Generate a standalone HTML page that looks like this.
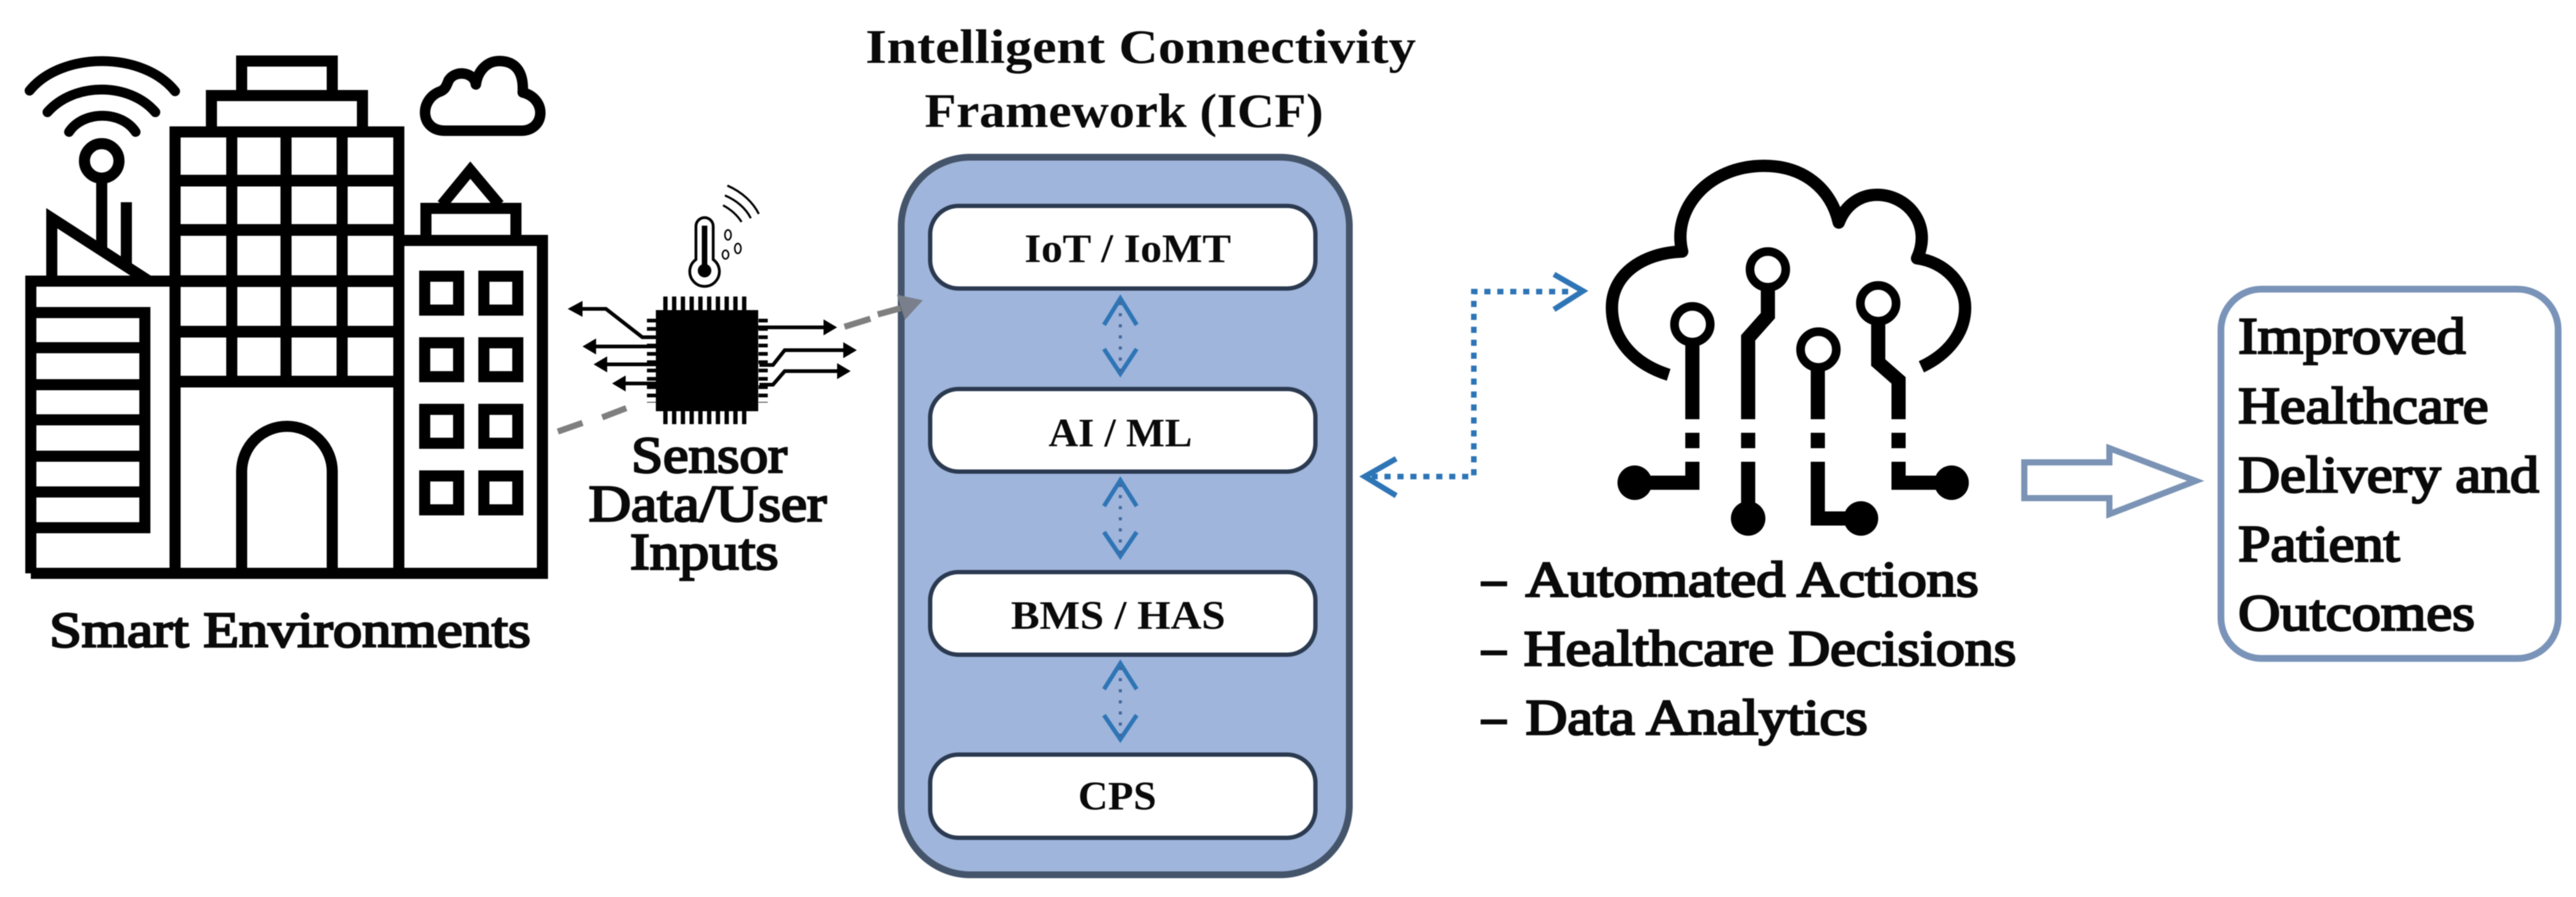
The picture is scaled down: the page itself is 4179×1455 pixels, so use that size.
<!DOCTYPE html>
<html>
<head>
<meta charset="utf-8">
<style>
html,body{margin:0;padding:0;background:#fff;}
svg{display:block;filter:blur(0.8px);}
text{font-family:"Liberation Serif",serif;font-weight:bold;fill:#0a0a0a;}
text.m{font-weight:normal;stroke:#0a0a0a;stroke-width:3.2px;}
</style>
</head>
<body>
<svg width="4179" height="1455" viewBox="0 0 4179 1455" xmlns="http://www.w3.org/2000/svg">
<rect width="4179" height="1455" fill="#fff"/>

<!-- Smart building icon -->
<g fill="none" stroke="#000" stroke-width="18" stroke-linejoin="miter">
  <path d="M50 930V456H284M284 930V214H647V930M50 930H880V390H647"/>
  <path d="M284 293H647M284 373H647M284 456H647M284 538H647M284 619H647" stroke-width="19"/>
  <path d="M376 214V619M464 214V619M555 214V619"/>
  <path d="M343 214V155H588V214M392 155V99H539V155"/>
  <path d="M392 930V765A73.500 73.500 0 0 1 539 765V930"/>
  <path d="M691 390V338H837V390"/>
  <path d="M717 332L763 276L810 332" stroke-width="18"/>
  <path d="M50 507H235V856H50M50 564H235M50 624H235M50 681H235M50 740H235M50 798H235"/>
  <rect x="689" y="448" width="55" height="55"/>
  <rect x="785" y="448" width="55" height="55"/>
  <rect x="689" y="556" width="55" height="55"/>
  <rect x="785" y="556" width="55" height="55"/>
  <rect x="689" y="664" width="55" height="55"/>
  <rect x="785" y="664" width="55" height="55"/>
  <rect x="689" y="772" width="55" height="55"/>
  <rect x="785" y="772" width="55" height="55"/>
  <!-- antenna -->
  <circle cx="165" cy="261" r="28"/>
  <path d="M165 289V405M205 328V430"/>
  <path d="M84 456V354L242 456" stroke-linejoin="miter"/>
  <path d="M48 147C100 83 232 83 284 148M77 182C120 133 210 133 252 182M112 214C135 179 197 179 220 214" stroke-width="16" stroke-linecap="round"/>
  <!-- small cloud -->
  <path d="M722 212H845C885 212 888 160 848 150C850 115 835 99 810 99C790 99 775 115 772 137C770 118 740 112 728 130C724 140 722 145 715 148C680 160 680 212 722 212Z" stroke-width="17" stroke-linejoin="round"/>
</g>

<text class="m" x="80" y="1049" font-size="82" textLength="781" lengthAdjust="spacingAndGlyphs">Smart Environments</text>

<!-- Chip -->
<rect x="1064" y="503" width="166" height="164" fill="#000"/>
<g fill="none" stroke="#000">
  <path d="M1076 492H1218M1076 677H1218" stroke-width="22" stroke-dasharray="7 7.200"/>
  <path d="M1057 517V653M1238 517V653" stroke-width="15" stroke-dasharray="6 7.500"/>
  <g stroke-width="6">
    <path d="M1064 547H1042L983 501H935"/>
    <path d="M1064 562H960M1064 591H978M1064 622H1006"/>
    <path d="M1230 531H1340"/>
    <path d="M1232 592H1254L1273 568H1372"/>
    <path d="M1232 624H1254L1273 602H1362"/>
  </g>
</g>
<g fill="#000">
  <path d="M921 501L945 488V514Z"/><path d="M945 562L967 549V575Z"/>
  <path d="M963 591L985 578V604Z"/><path d="M993 622L1015 609V635Z"/>
  <path d="M1358 531L1336 518V544Z"/><path d="M1390 568L1368 555V581Z"/>
  <path d="M1380 602L1358 589V615Z"/>
</g>

<!-- Thermometer -->
<g fill="none" stroke="#000">
  <path d="M1129 421V367A14 14 0 0 1 1157 367V421A24 24 0 1 1 1129 421Z" stroke-width="4.500"/>
  <path d="M1143 366V436" stroke-width="9"/>
  <circle cx="1143" cy="439" r="11" fill="#000" stroke="none"/>
  <path d="M1180 301C1205 312 1222 329 1231 347M1176 317C1195 325 1210 338 1218 354M1173 333C1186 340 1196 349 1203 360" stroke-width="3.500"/>
  <g stroke-width="2.500">
    <ellipse cx="1181" cy="381" rx="5" ry="8"/>
    <ellipse cx="1197" cy="403" rx="5" ry="8"/>
    <ellipse cx="1177" cy="413" rx="5" ry="7"/>
  </g>
</g>

<text class="m" x="1024" y="766" font-size="84" textLength="253" lengthAdjust="spacingAndGlyphs">Sensor</text>
<text class="m" x="955" y="845" font-size="84" textLength="386" lengthAdjust="spacingAndGlyphs">Data/User</text>
<text class="m" x="1022" y="923" font-size="84" textLength="241" lengthAdjust="spacingAndGlyphs">Inputs</text>

<!-- Panel -->
<rect x="1462" y="255" width="727" height="1164" rx="112" ry="112" fill="#9fb5db" stroke="#44546a" stroke-width="11"/>
<g fill="#fff" stroke="#2b3a50" stroke-width="7">
  <rect x="1509" y="334" width="625" height="134" rx="46"/>
  <rect x="1509" y="631" width="625" height="134" rx="46"/>
  <rect x="1509" y="928" width="625" height="134" rx="46"/>
  <rect x="1509" y="1224" width="625" height="135" rx="46"/>
</g>
<text x="1404" y="102" font-size="78" textLength="893" lengthAdjust="spacingAndGlyphs">Intelligent Connectivity</text>
<text x="1500" y="206" font-size="78" textLength="647" lengthAdjust="spacingAndGlyphs">Framework (ICF)</text>
<text x="1662" y="425" font-size="66" textLength="335" lengthAdjust="spacingAndGlyphs">IoT / IoMT</text>
<text x="1701" y="724" font-size="66" textLength="233" lengthAdjust="spacingAndGlyphs">AI / ML</text>
<text x="1640" y="1020" font-size="66" textLength="348" lengthAdjust="spacingAndGlyphs">BMS / HAS</text>
<text x="1749" y="1313" font-size="66" textLength="127" lengthAdjust="spacingAndGlyphs">CPS</text>

<!-- Internal double arrows -->
<g fill="none" stroke="#2e75b6" stroke-width="7">
  <path d="M1791 527L1817.500 484L1844 527M1791 566L1817.500 606L1844 566"/>
  <path d="M1791 821L1817.500 779L1844 821M1791 863L1817.500 902L1844 863"/>
  <path d="M1791 1118L1817.500 1076L1844 1118M1791 1160L1817.500 1199L1844 1160"/>
</g>
<g fill="none" stroke="#44689a" stroke-width="5" stroke-dasharray="5 13">
  <path d="M1817.500 490V604M1817.500 785V900M1817.500 1082V1197"/>
</g>

<!-- Gray dashed -->
<g fill="none" stroke="#7f7f7f" stroke-width="10">
  <path d="M905 700L945 686M977 677L1016 662M1370 530L1412 517M1424 510L1461 500"/>
</g>
<path d="M1455 478L1468 519L1497 487Z" fill="#7a7f8c"/>

<!-- Blue connector -->
<path d="M2225 773H2391V473H2555" fill="none" stroke="#2e75b6" stroke-width="9" stroke-dasharray="10 11"/>
<g fill="none" stroke="#2e75b6" stroke-width="9">
  <path d="M2265 744L2214 773L2265 804"/>
  <path d="M2521 445L2568 472L2521 502"/>
</g>

<!-- Big cloud -->
<g fill="none" stroke="#000" stroke-width="20">
  <path stroke-linejoin="round" d="M2707 608C2650 590 2615 550 2615 499C2615 445 2665 410 2729 408C2712 340 2770 269 2862 269C2925 269 2970 305 2983 361C2995 330 3020 316 3045 316C3095 316 3135 365 3110 419C3155 425 3188 460 3188 499C3188 540 3160 575 3117 595"/>
  <circle cx="2745.500" cy="526" r="29" stroke-width="14"/>
  <circle cx="2868" cy="437" r="29" stroke-width="14"/>
  <circle cx="2950" cy="567" r="29" stroke-width="14"/>
  <circle cx="3047" cy="492" r="29" stroke-width="14"/>
  <g stroke-width="23">
    <path d="M2745.500 555V680M2745.500 702V727M2745.500 749V783H2652"/>
    <path d="M2868 466V512L2836 548V680M2836 702V727M2836 749V841"/>
    <path d="M2949 596V680M2949 702V727M2949 749V841H3019"/>
    <path d="M3047 521V588L3080 617V680M3080 702V727M3080 749V783H3166"/>
  </g>
</g>
<g fill="#000">
  <circle cx="2652" cy="783" r="28"/>
  <circle cx="2836" cy="841" r="28"/>
  <circle cx="3019" cy="841" r="28"/>
  <circle cx="3166" cy="783" r="28"/>
</g>

<!-- Bullets -->
<rect x="2402" y="943" width="43" height="8" fill="#0a0a0a"/>
<rect x="2402" y="1055" width="43" height="8" fill="#0a0a0a"/>
<rect x="2402" y="1167" width="43" height="8" fill="#0a0a0a"/>
<text class="m" x="2475" y="967" font-size="82" textLength="735" lengthAdjust="spacingAndGlyphs">Automated Actions</text>
<text class="m" x="2472" y="1079" font-size="82" textLength="799" lengthAdjust="spacingAndGlyphs">Healthcare Decisions</text>
<text class="m" x="2475" y="1191" font-size="82" textLength="555" lengthAdjust="spacingAndGlyphs">Data Analytics</text>

<!-- Output arrow -->
<path d="M3284 750H3422V727L3562 780L3422 834V808H3284Z" fill="#fff" stroke="#7b93b5" stroke-width="10"/>

<!-- Output box -->
<rect x="3603" y="469" width="547" height="599" rx="66" fill="#fff" stroke="#7a93b8" stroke-width="11"/>
<text class="m" x="3631" y="573" font-size="84" textLength="369" lengthAdjust="spacingAndGlyphs">Improved</text>
<text class="m" x="3631" y="686" font-size="84" textLength="406" lengthAdjust="spacingAndGlyphs">Healthcare</text>
<text class="m" x="3631" y="798" font-size="84" textLength="488" lengthAdjust="spacingAndGlyphs">Delivery and</text>
<text class="m" x="3631" y="910" font-size="84" textLength="262" lengthAdjust="spacingAndGlyphs">Patient</text>
<text class="m" x="3631" y="1022" font-size="84" textLength="384" lengthAdjust="spacingAndGlyphs">Outcomes</text>
</svg>
</body>
</html>
